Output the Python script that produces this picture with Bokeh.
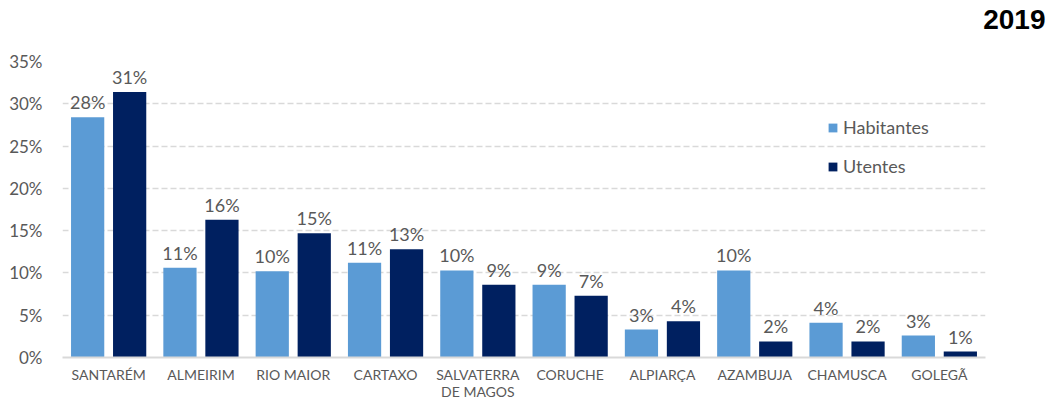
from bokeh.plotting import figure
from bokeh.models import ColumnDataSource, FactorRange, FixedTicker, NumeralTickFormatter, Legend, LegendItem, Title
from bokeh.transform import dodge
from bokeh.core.properties import value
from bokeh.embed import file_html
from bokeh.resources import INLINE

categories = ["SANTARÉM", "ALMEIRIM", "RIO MAIOR", "CARTAXO", "SALVATERRA\nDE MAGOS",
              "CORUCHE", "ALPIARÇA", "AZAMBUJA", "CHAMUSCA", "GOLEGÃ"]
habitantes = [0.284, 0.106, 0.102, 0.112, 0.103, 0.086, 0.033, 0.103, 0.041, 0.026]
utentes = [0.314, 0.163, 0.147, 0.128, 0.086, 0.073, 0.043, 0.019, 0.019, 0.007]
y_ticks = [0.0, 0.05, 0.10, 0.15, 0.20, 0.25, 0.30, 0.35]
title_text = "2019"

FONT = "Lato"
GREY = "#595959"
C_HAB = "#5B9BD5"
C_UTE = "#002060"

src = ColumnDataSource(dict(
    cat=categories,
    hab=habitantes,
    ute=utentes,
    hab_lbl=[f"{round(v * 100)}%" for v in habitantes],
    ute_lbl=[f"{round(v * 100)}%" for v in utentes],
))

W, H = 1048, 403
FL, FR, FT, FB = 62, 985, 61, 357
p = figure(x_range=FactorRange(*categories, range_padding=0), y_range=(0, 0.35),
           width=W, height=H, output_backend="svg", toolbar_location=None, title=None,
           min_border_left=FL, min_border_right=W - FR, min_border_top=FT, min_border_bottom=H - FB)
p.outline_line_color = None
p.background_fill_color = "white"
p.border_fill_color = "white"

# spacer (closest to frame) then the real title
p.add_layout(Title(text=" ", text_font_size="1px", standoff=30), "above")
p.add_layout(Title(text=title_text, align="right", vertical_align="bottom",
                   offset=FR - 1045, standoff=0,
                   text_font="Liberation Sans", text_font_style="bold",
                   text_font_size="28px", text_color="black"), "above")

off = 0.2275
bw = 0.36
r1 = p.vbar(x=dodge("cat", -off, range=p.x_range), top="hab", width=bw, source=src,
            fill_color=C_HAB, line_color=None)
r2 = p.vbar(x=dodge("cat", off, range=p.x_range), top="ute", width=bw, source=src,
            fill_color=C_UTE, line_color=None)

for col, lbl, o in (("hab", "hab_lbl", -off), ("ute", "ute_lbl", off)):
    p.text(x=dodge("cat", o, range=p.x_range), y=col, text=lbl, source=src,
           text_align="center", text_baseline="alphabetic", y_offset=-15,
           text_font=value(FONT), text_font_size="18px", text_color=GREY)

# axes
p.yaxis.ticker = FixedTicker(ticks=y_ticks)
p.yaxis.formatter = NumeralTickFormatter(format="0%")
p.yaxis.axis_line_color = None
p.yaxis.major_tick_line_color = None
p.yaxis.minor_tick_line_color = None
p.yaxis.major_tick_out = 0
p.yaxis.major_label_standoff = 20
p.yaxis.major_label_text_font = FONT
p.yaxis.major_label_text_font_size = "17px"
p.yaxis.major_label_text_color = GREY

p.xaxis.axis_line_color = "#D9D9D9"
p.xaxis.axis_line_width = 2
p.xaxis.major_tick_line_color = None
p.xaxis.minor_tick_line_color = None
p.xaxis.major_tick_out = 0
p.xaxis.major_label_standoff = 8
p.xaxis.major_label_text_font = FONT
p.xaxis.major_label_text_font_size = "14px"
p.xaxis.major_label_text_line_height = 1.05
p.xaxis.major_label_text_color = GREY

p.xgrid.grid_line_color = None
p.ygrid.grid_line_color = "#D9D9D9"
p.ygrid.grid_line_width = 1.3
p.ygrid.grid_line_dash = "6 3"

legend = Legend(items=[LegendItem(label="Habitantes", renderers=[r1]),
                       LegendItem(label="Utentes", renderers=[r2])],
                location=(765, 180), orientation="vertical",
                glyph_width=11, glyph_height=11, label_height=20, spacing=17,
                label_standoff=5, padding=0, margin=0,
                label_text_font=FONT, label_text_font_size="18px", label_text_color=GREY,
                background_fill_alpha=0, border_line_color=None)
p.add_layout(legend, "center")

open("out.html", "w").write(file_html(p, INLINE))
